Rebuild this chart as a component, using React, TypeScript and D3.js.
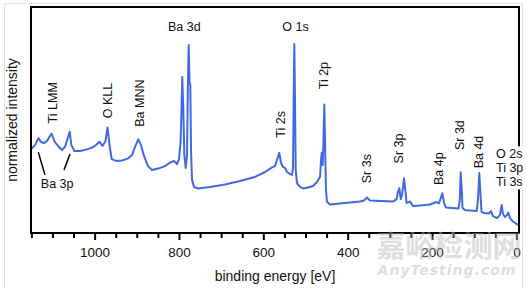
import React from 'react';
import * as d3 from 'd3';

// Spectrum (binding energy in eV, normalized intensity 0-100)
const BINDING_ENERGY = [
  1151, 1142.5, 1134.2, 1128.3, 1121.2, 1114, 1103.4, 1095.8, 1088, 1078.5, 1071.4, 1065.5, 1060.2, 1056.4,
  1048.9, 1035.8, 1021.6, 1007.4, 997.9, 989.6, 982.5, 975.4, 970.6, 965.9, 960.7, 950.5, 936.2, 922, 912.5,
  905.4, 897.6, 891.2, 884.1, 874.6, 865.1, 850.9, 834.3, 822.4, 812.9, 805.8, 801.1, 797.5, 795.2, 793.3,
  790.9, 788.5, 785.2, 782.1, 780.2, 778.1, 776.2, 774.3, 772.6, 770.3, 765.5, 756, 727.6, 692, 656.5, 620.9,
  597.2, 580.6, 573.5, 568.8, 563.3, 559.3, 554.5, 549.8, 545, 537.9, 533.2, 530.8, 529.2, 527.7, 526.1,
  524.4, 521.3, 514.2, 507.1, 495.2, 483.4, 473.9, 466.8, 464.4, 462.8, 460.4, 458.5, 456.6, 455, 452.6,
  450.2, 443.1, 419.4, 395.7, 371.9, 362.5, 355.4, 348.3, 324.5, 293.7, 285.4, 281.9, 278.7, 275.4, 272.3,
  267.6, 264, 261.6, 253.4, 246.3, 229.7, 206, 190.6, 184.7, 176.8, 172.8, 168.1, 153.9, 138.5, 135.4, 133.3,
  130.7, 129, 123.1, 111.2, 95.4, 92.3, 89.2, 86.8, 84, 78, 66.2, 61.4, 56.7, 47.2, 40.1, 36.1, 33, 28.3,
  23.5, 20.4, 16.4, 9.3, 2.2, -3.3,
];
const INTENSITY = [
  37.2, 38.9, 42.0, 40.3, 39.8, 40.7, 44.0, 40.4, 38.5, 36.7, 38.1, 41.6, 44.8, 38.9,
  36.3, 36.3, 36.9, 37.8, 38.9, 40.4, 38.5, 40.7, 46.7, 38.9, 32.7, 31.9, 32.1, 33.0, 34.5,
  38.1, 41.4, 38.9, 34.1, 29.6, 27.9, 28.5, 29.6, 31.2, 31.9, 30.5, 32.7, 39.8, 54.4, 69.0,
  54.4, 34.5, 28.8, 34.5, 63.3, 83.2, 66.8, 65.5, 36.7, 23.5, 20.4, 19.7, 20.4, 21.5, 23.0, 24.8,
  27.0, 29.0, 29.6, 32.3, 35.5, 31.0, 29.2, 28.8, 27.0, 26.1, 25.7, 28.8, 58.8, 83.6, 58.8,
  27.9, 22.1, 20.4, 19.7, 20.1, 20.8, 22.6, 24.8, 32.3, 35.4, 30.1, 41.2, 56.9, 41.2, 19.0,
  13.8, 12.6, 13.1, 13.5, 13.9, 14.4, 15.7, 14.4, 14.2, 13.9, 15.0, 18.1, 19.8, 15.0, 16.8,
  24.2, 18.1, 13.3, 13.9, 11.9, 12.2, 12.6, 13.7, 13.1, 17.6, 13.3, 11.3, 11.1, 10.8, 14.6, 26.9,
  19.0, 11.1, 10.2, 10.0, 9.7, 14.6, 26.5, 19.0, 9.5, 8.8, 8.6, 9.7, 7.5, 6.6, 8.0, 12.4, 8.4, 7.1,
  8.0, 9.1, 6.6, 5.1, 4.2, 3.5,
];

// Axis
const MINOR_TICKS = [1150, 1100, 1050, 1000, 950, 900, 850, 800, 750, 700, 650, 600, 550, 500, 450, 400, 350, 300, 250, 200, 150, 100, 50, 0];
const TICK_LABELS = [1000, 800, 600, 400, 200, 0];
const X_TITLE = 'binding energy [eV]';
const Y_TITLE = 'normalized intensity';

// Peak labels, vertical (rotated): [text, eV at baseline, intensity at text start]
const VERTICAL_LABELS: [string, number, number][] = [
  ['Ti LMM', 1091.5, 48.5],
  ['O KLL', 961.1, 50.8],
  ['Ba MNN', 884.1, 47.0],
  ['Ti 2s', 549.8, 42.2],
  ['Ti 2p', 447.8, 63.6],
  ['Sr 3s', 345.9, 22.0],
  ['Sr 3p', 270.0, 30.8],
  ['Ba 4p', 175.1, 21.2],
  ['Sr 3d', 125.4, 36.7],
  ['Ba 4d', 80.3, 28.6],
];
// Horizontal labels: [text, eV, intensity at baseline, anchor]
const HORIZONTAL_LABELS: [string, number, number, string][] = [
  ['Ba 3d', 788.5, 89.4, 'middle'],
  ['O 1s', 524.9, 89.4, 'middle'],
  ['Ba 3p', 1089.9, 20.1, 'middle'],
];
const STACK_LABELS = ['O 2s', 'Ti 3p', 'Ti 3s'];
const STACK_POS: [number, number] = [49.5, 33.0];
// Leader lines for Ba 3p: [eV1, I1, eV2, I2]
const LEADERS: [number, number, number, number][] = [
  [1134.7, 35.8, 1118.8, 25.7],
  [1059.5, 35.0, 1073.7, 27.9],
];

const W = 527;
const H = 288;
const FONT = '"Liberation Sans", Arial, sans-serif';

export default function App() {
  const x = d3.scaleLinear().domain([1152, -5]).range([31, 519]);
  const y = d3.scaleLinear().domain([0, 100]).range([233, 7]);
  const pts = BINDING_ENERGY.map((e, i) => [e, INTENSITY[i]] as [number, number]);
  const line = d3.line<[number, number]>().x((d) => x(d[0])).y((d) => y(d[1]));
  const bottom = y(0);

  return (
    <svg width={W} height={H} style={{ position: 'absolute', left: 0, top: 0, background: '#fff' }} fontFamily={FONT}>
      <rect x={0} y={0} width={W} height={H} fill="#fff" />
      <rect x={4.5} y={3.5} width={518} height={300} fill="none" stroke="#e2e2e2" strokeWidth={1} />
      <path d={line(pts) || ''} fill="none" stroke="#4169e1" strokeWidth={2} strokeLinejoin="round" />
      {/* frame */}
      <rect x={x(1152)} y={y(100)} width={x(-5) - x(1152)} height={y(0) - y(100)} fill="none" stroke="#000" strokeWidth={2} />
      {/* ticks */}
      {MINOR_TICKS.map((t) => (
        <line key={t} x1={x(t)} x2={x(t)} y1={bottom} y2={bottom + (t % 200 === 0 ? 7 : 5)} stroke="#000" strokeWidth={2} />
      ))}
      {TICK_LABELS.map((t) => (
        <text key={t} x={x(t)} y={bottom + 24} textAnchor="middle" fontSize={13.5} fill="#111">
          {t}
        </text>
      ))}
      <text x={275} y={280.5} textAnchor="middle" fontSize={14} fill="#111">
        {X_TITLE}
      </text>
      <text transform={`translate(17,120) rotate(-90)`} textAnchor="middle" fontSize={14} fill="#111">
        {Y_TITLE}
      </text>
      {VERTICAL_LABELS.map(([t, e, v]) => (
        <text key={t} transform={`translate(${x(e)},${y(v)}) rotate(-90)`} fontSize={12.5} fill="#111">
          {t}
        </text>
      ))}
      {HORIZONTAL_LABELS.map(([t, e, v, a]) => (
        <text key={t} x={x(e)} y={y(v)} textAnchor={a as any} fontSize={12.5} fill="#111">
          {t}
        </text>
      ))}
      {LEADERS.map(([e1, v1, e2, v2], i) => (
        <line key={i} x1={x(e1)} y1={y(v1)} x2={x(e2)} y2={y(v2)} stroke="#000" strokeWidth={1.5} />
      ))}
      <rect x={x(STACK_POS[0]) - 2} y={y(STACK_POS[1]) - 12} width={40} height={43} fill="#fff" />
      {STACK_LABELS.map((t, i) => (
        <text key={t} x={x(STACK_POS[0])} y={y(STACK_POS[1]) + i * 14} fontSize={12.5} fill="#111">
          {t}
        </text>
      ))}
      <rect x={523} y={0} width={4} height={H} fill="#fff" />
      {/* watermark */}
      <g opacity={0.45} fill="#b8b8b8">
        <text x={449} y={257} textAnchor="middle" fontSize={29} fontWeight="bold" fontFamily='"Noto Sans CJK SC", sans-serif'>
          嘉峪检测网
        </text>
        <text x={447} y={275} textAnchor="middle" fontSize={14} fontWeight="bold" fontStyle="italic" letterSpacing={1} fontFamily='"DejaVu Sans", sans-serif'>
          AnyTesting.com
        </text>
      </g>
    </svg>
  );
}
